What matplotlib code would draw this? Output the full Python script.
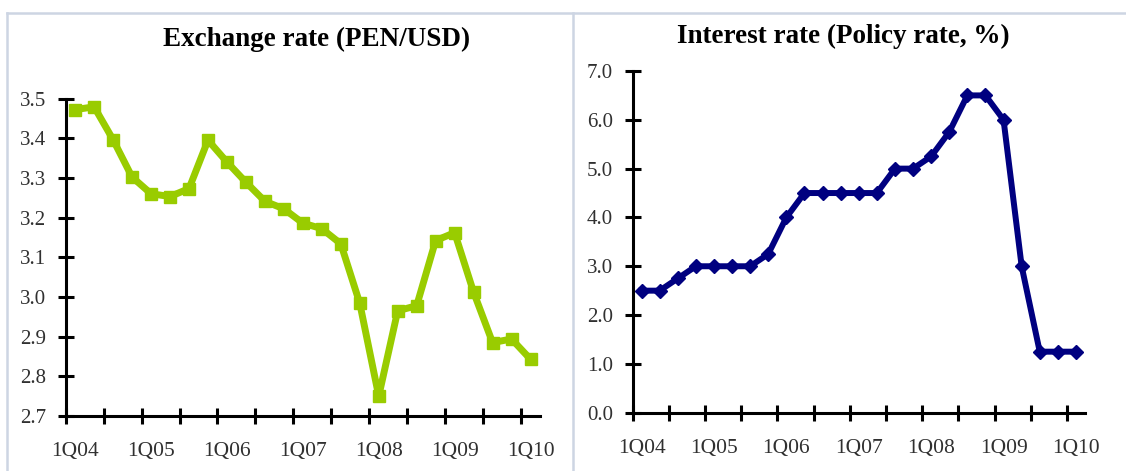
import matplotlib.pyplot as plt
from matplotlib.lines import Line2D
import numpy as np

quarters = ['1Q04', '2Q04', '3Q04', '4Q04', '1Q05', '2Q05', '3Q05', '4Q05',
            '1Q06', '2Q06', '3Q06', '4Q06', '1Q07', '2Q07', '3Q07', '4Q07',
            '1Q08', '2Q08', '3Q08', '4Q08', '1Q09', '2Q09', '3Q09', '4Q09', '1Q10']

# PEN per USD, end of quarter
exchange_rate = [3.472, 3.479, 3.396, 3.302, 3.260, 3.253, 3.273, 3.395,
                 3.340, 3.289, 3.241, 3.222, 3.186, 3.172, 3.134, 2.984,
                 2.750, 2.965, 2.978, 3.142, 3.162, 3.012, 2.885, 2.894, 2.843]

# policy rate, %
policy_rate = [2.50, 2.50, 2.75, 3.00, 3.00, 3.00, 3.00, 3.25,
               4.00, 4.50, 4.50, 4.50, 4.50, 4.50, 5.00, 5.00,
               5.25, 5.75, 6.50, 6.50, 6.00, 3.00, 1.25, 1.25, 1.25]

titles = ['Exchange rate (PEN/USD)', 'Interest rate (Policy rate, %)']

plt.rcParams['font.family'] = ['Liberation Serif', 'DejaVu Serif']

fig = plt.figure(figsize=(11.26, 4.71), dpi=100)
W, H = 1126, 471

def box(px0, px1, py_top, py_bot):
    return [px0 / W, 1 - py_bot / H, (px1 - px0) / W, (py_bot - py_top) / H]

ax1 = fig.add_axes(box(65.7, 540, 98.5, 416))
ax2 = fig.add_axes(box(632.5, 1085, 71, 412.7))

x = np.arange(len(quarters))

ax1.plot(x, exchange_rate, color='#99CC00', lw=5.0, marker='s', ms=9,
         solid_joinstyle='round', clip_on=False, zorder=3)
ax2.plot(x, policy_rate, color='#000080', lw=4.3, marker='D', ms=7.5,
         solid_joinstyle='round', clip_on=False, zorder=3)

ax1.set_ylim(2.7, 3.5)
ax1.set_yticks(np.arange(2.7, 3.51, 0.1))
ax2.set_ylim(0, 7)
ax2.set_yticks(np.arange(0, 7.01, 1.0))

for ax in (ax1, ax2):
    ax.set_xlim(-0.5, len(quarters) - 0.5)
    ax.set_xticks(np.arange(-0.5, len(quarters) - 1, 2))
    ax.set_xticklabels([])
    ax.set_xticks(x[::4], minor=True)
    ax.set_xticklabels(quarters[::4], minor=True)
    ax.tick_params(axis='x', which='minor', length=0, pad=19,
                   labelsize=15.5, labelcolor='#303030')
    ax.tick_params(axis='x', which='major', direction='inout', length=12,
                   width=2.2, color='black')
    ax.tick_params(axis='y', direction='inout', length=12, width=2.2,
                   pad=8, labelsize=15, labelcolor='#303030')
    ax.yaxis.set_major_formatter(plt.FormatStrFormatter('%.1f'))
    for s in ('top', 'right'):
        ax.spines[s].set_visible(False)
    for s in ('left', 'bottom'):
        ax.spines[s].set_linewidth(2.2)
        ax.spines[s].set_zorder(4)

# panel frame
bc = '#CDD5E3'
top = 1 - 13 / H
fig.add_artist(Line2D([7 / W, 1], [top, top], color=bc, lw=1.8))
fig.add_artist(Line2D([7 / W, 7 / W], [0, top], color=bc, lw=1.8))
fig.add_artist(Line2D([573 / W, 573 / W], [0, top], color=bc, lw=1.8))

fig.text(317 / W, 1 - 39 / H, titles[0], ha='center', va='center',
         fontsize=19.5, fontweight='bold')
fig.text(843 / W, 1 - 36 / H, titles[1], ha='center', va='center',
         fontsize=19.5, fontweight='bold')

fig.savefig('out.png', dpi=100)
